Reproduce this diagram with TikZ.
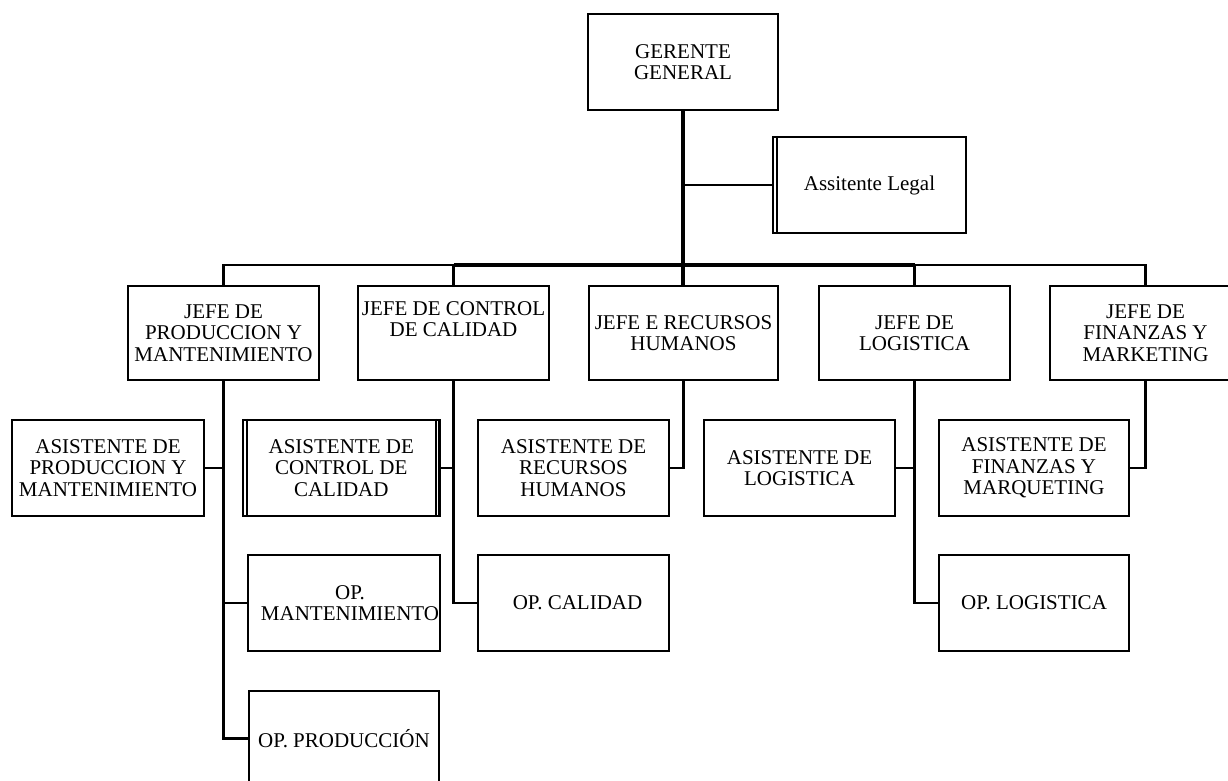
\documentclass[tikz,border=0pt]{standalone}
\usepackage{fontspec}
\setmainfont{Liberation Serif}
\begin{document}
\begin{tikzpicture}[x=1pt,y=-1pt,
  box/.style={draw, line width=2.4pt, inner sep=0pt, align=center,
    font=\fontsize{21}{21.5}\selectfont, minimum width=#1, minimum height=96pt},
  box/.default=191pt,
  conn/.style={line width=2.4pt},
  trunk/.style={line width=3.4pt},
  innerline/.style={line width=1.6pt}]
\useasboundingbox (0,0) rectangle (1228,781);
\clip (0,0) rectangle (1228,781);

% top level
\node[box=190pt] (ger) at (683,62) {GERENTE\\GENERAL};
\node[box=193pt] (legal) at (869.5,185) {Assitente Legal};
\draw[innerline] ([xshift=5pt]legal.north west) -- ([xshift=5pt]legal.south west);

% department heads
\node[box, minimum height=94pt] (jprod) at (223.5,333) {JEFE DE\\PRODUCCION Y\\MANTENIMIENTO};
\node[box, minimum height=94pt] (jctrl) at (453.5,333) {JEFE DE CONTROL\\DE CALIDAD\\\strut};
\node[box=189pt, minimum height=94pt] (jrrhh) at (683.5,333) {JEFE E RECURSOS\\HUMANOS};
\node[box, minimum height=94pt] (jlog) at (914.5,333) {JEFE DE\\LOGISTICA};
\node[box, minimum height=94pt] (jfin) at (1145.5,333) {JEFE DE\\FINANZAS Y\\MARKETING};

% assistants
\node[box=192pt] (aprod) at (108,468) {ASISTENTE DE\\PRODUCCION Y\\MANTENIMIENTO};
\node[box=196.5pt] (actrl) at (341.25,468) {ASISTENTE DE\\CONTROL DE\\CALIDAD};
\draw[innerline] ([xshift=5pt]actrl.north west) -- ([xshift=5pt]actrl.south west);
\draw[innerline] ([xshift=-4.5pt]actrl.north east) -- ([xshift=-4.5pt]actrl.south east);
\node[box] (arrhh) at (573.5,468) {ASISTENTE DE\\RECURSOS\\HUMANOS};
\node[box] (alog) at (799.5,468) {ASISTENTE DE\\LOGISTICA};
\node[box=190pt] (afin) at (1034,468) {ASISTENTE DE\\FINANZAS Y\\MARQUETING};

% operators
\node[box=192pt] (opmant) at (344,603) {\hspace*{12pt}OP.\\\hspace*{12pt}MANTENIMIENTO};
\node[box] (opcal) at (573.5,603) {\hspace*{8pt}OP. CALIDAD};
\node[box=190pt] (oplog) at (1034,603) {OP. LOGISTICA};
\node[box=190pt, minimum height=95pt] (opprod) at (344,738.5) {OP. PRODUCCIÓN};

% trunk and horizontal bar
\coordinate (bar) at (683,265);
\draw[conn] (ger.south) |- (legal.west);
\draw[conn] (jprod.north) |- (bar) -| (jfin.north);
\draw[conn] (jctrl.north) -- (jctrl.north |- bar);
\draw[conn] (jlog.north) -- (jlog.north |- bar);
\draw[trunk] (jctrl.north |- bar) -- (jlog.north |- bar);
\draw[trunk] (ger.south) -- (ger.south |- jrrhh.north);

% branches below each head
\draw[conn] (jprod.south) |- (aprod.east);
\draw[conn] (jprod.south) |- (opmant.west);
\draw[conn] (jprod.south) |- (opprod.west);
\draw[conn] (jctrl.south) |- (actrl.east);
\draw[conn] (jctrl.south) |- (opcal.west);
\draw[conn] (jrrhh.south) |- (arrhh.east);
\draw[conn] (jlog.south) |- (alog.east);
\draw[conn] (jlog.south) |- (oplog.west);
\draw[conn] (jfin.south) |- (afin.east);
\end{tikzpicture}
\end{document}
